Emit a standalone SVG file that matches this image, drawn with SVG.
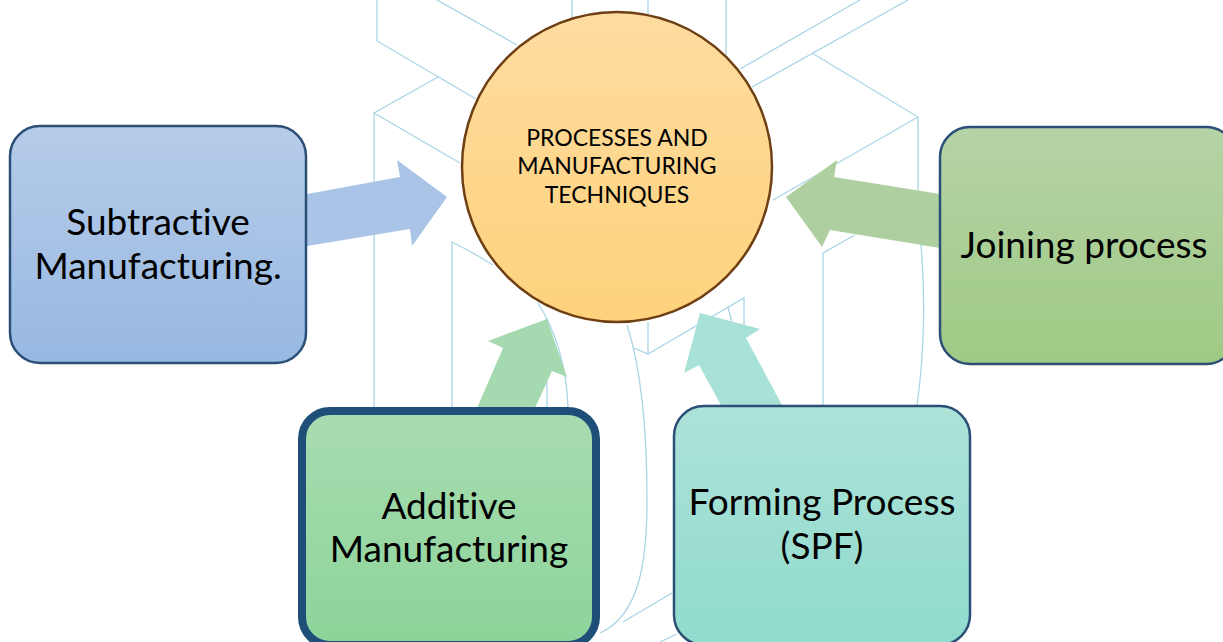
<svg xmlns="http://www.w3.org/2000/svg" width="1223" height="642" viewBox="0 0 1223 642">
<style>
.bg{fill:none;stroke:#aad5e6;stroke-width:1.3}
.box{stroke:#2b4f76;stroke-width:2.5}
.t{font-family:"Lato","Open Sans","Noto Sans",sans-serif;fill:#000;text-anchor:middle;font-variant-ligatures:none}
.big{font-size:37px}
.small{font-size:23px}
</style>
<defs>
<linearGradient id="gBlue" x1="0" y1="0" x2="0" y2="1"><stop offset="0" stop-color="#b6cce9"/><stop offset="1" stop-color="#97b8e2"/></linearGradient>
<linearGradient id="gOlive" x1="0" y1="0" x2="0" y2="1"><stop offset="0" stop-color="#b5d3a6"/><stop offset="1" stop-color="#9fca85"/></linearGradient>
<linearGradient id="gGreen" x1="0" y1="0" x2="0" y2="1"><stop offset="0" stop-color="#a9dcb0"/><stop offset="1" stop-color="#8cd49a"/></linearGradient>
<linearGradient id="gTeal" x1="0" y1="0" x2="0" y2="1"><stop offset="0" stop-color="#ade2d8"/><stop offset="1" stop-color="#90dbcd"/></linearGradient>
<linearGradient id="gOrange" x1="0" y1="0" x2="0" y2="1"><stop offset="0" stop-color="#fedca0"/><stop offset="1" stop-color="#fed27c"/></linearGradient>
</defs>
<g id="background-lines" class="bg">
<path d="M377 0V41L476 99"/>
<path d="M437 0L517 45"/>
<path d="M438 77L374 113L460 163"/>
<path d="M374 113V407"/>
<path d="M572 0V18M648 0V14M726 0V55"/>
<path d="M740 69L860 0M752 87L908 0"/>
<path d="M812 53L918 117V192"/>
<path d="M918 117L773 200"/>
<path d="M855 235L823 253V405"/>
<path d="M921 245C925 290 925 350 917 405"/>
<path d="M452 407V242C470 251 482 258 493 265"/>
<path d="M538 303C552 325 566 360 568 407"/>
<path d="M547 378V407"/>
<path d="M627 325C640 365 647 420 647 500C647 560 640 615 600 633"/>
<path d="M648 322V354L634 348M648 354L744 298V327"/>
<path d="M728 307L732 323"/>
<path d="M672 593L623 622"/>
<path d="M677 634L660 642"/>
</g>
<g id="connectors">
<polygon fill="#a9c4e7" points="307,194 400,177 397,160 447,197 412,246 410,229 307,246"/>
<polygon fill="#aed0a0" points="940,194 834,177 837,160 786,197 822,247 830,230 940,248"/>
<polygon fill="#a5dab0" points="477,408 503,348 488,341 547,319 567,377 552,371 535,408"/>
<polygon fill="#a8e1d6" points="722,407 699,365 684,373 700,313 760,329 746,338 783,407"/>
</g>
<g id="node-center">
<circle cx="617" cy="167" r="155" fill="url(#gOrange)" stroke="#6f3f14" stroke-width="2.5"/>
<text class="t small" x="617" y="146">PROCESSES AND</text>
<text class="t small" x="617" y="174">MANUFACTURING</text>
<text class="t small" x="617" y="203">TECHNIQUES</text>
</g>
<g id="node-subtractive">
<rect class="box" x="10" y="126" width="296" height="237" rx="30" fill="url(#gBlue)"/>
<text class="t big" x="158" y="235">Subtractive</text>
<text class="t big" x="158" y="279">Manufacturing.</text>
</g>
<g id="node-joining">
<rect class="box" x="940" y="127" width="296" height="237" rx="30" fill="url(#gOlive)"/>
<text class="t big" x="1084" y="258">Joining process</text>
</g>
<g id="node-additive">
<rect x="302" y="411" width="294" height="234" rx="28" fill="url(#gGreen)" stroke="#1f4e79" stroke-width="8"/>
<text class="t big" x="449" y="519">Additive</text>
<text class="t big" x="449" y="562">Manufacturing</text>
</g>
<g id="node-forming">
<rect class="box" x="674" y="406" width="296" height="239" rx="30" fill="url(#gTeal)"/>
<text class="t big" x="822" y="515">Forming Process</text>
<text class="t big" x="822" y="559">(SPF)</text>
</g>
</svg>
